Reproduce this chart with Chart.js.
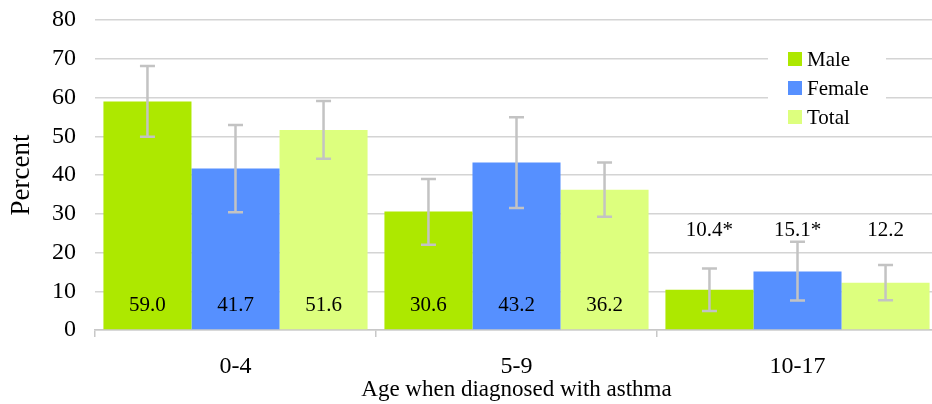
<!DOCTYPE html>
<html>
<head>
<meta charset="utf-8">
<script src="https://cdn.jsdelivr.net/npm/chart.js@4"></script>
<style>
  html, body { margin: 0; padding: 0; background: #fff; overflow: hidden; }
  #wrap { position: relative; width: 940px; height: 404px; }
</style>
</head>
<body>
<div id="wrap"><canvas id="chart"></canvas></div>
<script>
// ---- data ----
const ageGroups = ['0-4', '5-9', '10-17'];
const seriesNames = ['Male', 'Female', 'Total'];
const male   = [59.0, 30.6, 10.4];
const female = [41.7, 43.2, 15.1];
const total  = [51.6, 36.2, 12.2];
// 95% confidence intervals [low, high]
const maleCI   = [[49.9, 68.1], [22.0, 39.0], [4.9, 15.9]];
const femaleCI = [[30.4, 52.9], [31.5, 54.9], [7.6, 22.8]];
const totalCI  = [[44.2, 59.1], [29.2, 43.2], [7.7, 16.8]];
// unreliable estimates flagged with *
const maleFlag   = [false, false, true];
const femaleFlag = [false, false, true];
const totalFlag  = [false, false, false];
const yTicks = [0, 10, 20, 30, 40, 50, 60, 70, 80];

const colors = ['#ADE800', '#5690FF', '#DDFF7E'];
const SERIF = '"Liberation Serif", "Times New Roman", serif';

const fmt = (v, flag) => v.toFixed(1) + (flag ? '*' : '');

/* error bars: whisker + caps drawn from the CI arrays through the y scale */
const errorBars = {
  id: 'errorBars',
  afterDatasetsDraw(chart) {
    const { ctx } = chart, y = chart.scales.y;
    ctx.save();
    ctx.strokeStyle = '#C3C3C3'; ctx.lineWidth = 2.5;
    chart.data.datasets.forEach((ds, i) => {
      chart.getDatasetMeta(i).data.forEach((bar, j) => {
        const [lo, hi] = ds.ci[j];
        const x = bar.x, y1 = y.getPixelForValue(lo), y2 = y.getPixelForValue(hi);
        ctx.beginPath();
        ctx.moveTo(x, y1); ctx.lineTo(x, y2);
        ctx.moveTo(x - 7.5, y1); ctx.lineTo(x + 7.5, y1);
        ctx.moveTo(x - 7.5, y2); ctx.lineTo(x + 7.5, y2);
        ctx.stroke();
      });
    });
    ctx.restore();
  }
};

/* value labels: inside the bar base for tall bars, above the whiskers for short ones */
const valueLabels = {
  id: 'valueLabels',
  afterDatasetsDraw(chart) {
    const { ctx } = chart, y = chart.scales.y;
    ctx.save();
    ctx.font = '21px ' + SERIF; ctx.fillStyle = '#000';
    ctx.textAlign = 'center'; ctx.textBaseline = 'middle';
    chart.data.datasets.forEach((ds, i) => {
      chart.getDatasetMeta(i).data.forEach((bar, j) => {
        const v = ds.data[j];
        const at = v < 20 ? 25.6 : 6.4;
        ctx.fillText(fmt(v, ds.flags[j]), bar.x, y.getPixelForValue(at));
      });
    });
    ctx.restore();
  }
};

/* legend sitting inside the plot, on a white box that hides the gridlines */
const insideLegend = {
  id: 'insideLegend',
  afterDraw(chart) {
    const { ctx } = chart;
    ctx.save();
    ctx.fillStyle = '#fff';
    ctx.fillRect(768, 44, 118, 88);
    ctx.font = '21px ' + SERIF; ctx.textBaseline = 'middle'; ctx.textAlign = 'left';
    chart.data.datasets.forEach((ds, i) => {
      const cy = 59 + i * 29;
      ctx.fillStyle = ds.backgroundColor;
      ctx.fillRect(788, cy - 7, 14, 14);
      ctx.fillStyle = '#000';
      ctx.fillText(ds.label, 807, cy + 1);
    });
    ctx.restore();
  }
};

const ci = [maleCI, femaleCI, totalCI];
const flags = [maleFlag, femaleFlag, totalFlag];

new Chart(document.getElementById('chart'), {
  type: 'bar',
  data: {
    labels: ageGroups,
    datasets: [male, female, total].map((d, i) => ({
      label: seriesNames[i], data: d, ci: ci[i], flags: flags[i],
      backgroundColor: colors[i], categoryPercentage: 0.94, barPercentage: 1.0
    }))
  },
  options: {
    responsive: true, maintainAspectRatio: false, animation: false,
    layout: { padding: { top: 20, right: 2, left: 0, bottom: 0 } },
    plugins: { legend: { display: false }, tooltip: { enabled: false } },
    scales: {
      x: {
        grid: { drawOnChartArea: false, drawTicks: true, tickLength: 7, color: '#C8C8C8', lineWidth: 1.5 },
        border: { display: true, color: '#C8C8C8', width: 1.5 },
        ticks: { color: '#000', font: { family: SERIF, size: 24 }, padding: 15 },
        title: { display: true, text: 'Age when diagnosed with asthma', color: '#000',
                 font: { family: SERIF, size: 23 }, padding: { top: 0, bottom: 0 } },
        afterFit: (s) => { s.height = 74; }
      },
      y: {
        min: 0, max: 80,
        afterBuildTicks: (s) => { s.ticks = yTicks.map((v) => ({ value: v })); },
        // invisible tick marks give the label gap without inflating the top padding
        grid: { color: '#D4D4D4', lineWidth: 1.5, drawTicks: true, tickLength: 19, tickColor: 'rgba(0,0,0,0)' },
        border: { display: false },
        ticks: { color: '#000', font: { family: SERIF, size: 24 }, padding: 0 },
        title: { display: true, text: 'Percent', color: '#000',
                 font: { family: SERIF, size: 27 }, padding: { top: 6, bottom: 0 } },
        afterFit: (s) => { s.width = 95; }
      }
    }
  },
  plugins: [errorBars, valueLabels, insideLegend]
});
</script>
</body>
</html>
